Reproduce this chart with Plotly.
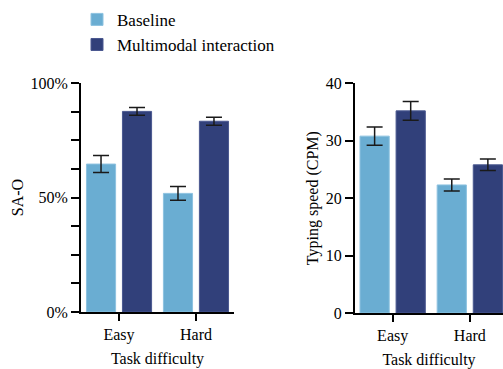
import plotly.graph_objects as go

categories = ["Easy", "Hard"]
series_names = ["Baseline", "Multimodal interaction"]

sao_baseline = [0.646, 0.518]
sao_baseline_err = [0.037, 0.030]
sao_multi = [0.876, 0.833]
sao_multi_err = [0.017, 0.017]

cpm_baseline = [30.8, 22.3]
cpm_baseline_err = [1.6, 1.05]
cpm_multi = [35.2, 25.8]
cpm_multi_err = [1.65, 1.0]

colors = ["#6AADD2", "#31407A"]
edge = ["#8DC2E0", "#4A5890"]
FONT = "Liberation Serif"

fig = go.Figure()

def add(vals, errs, i, xa, ya, show):
    fig.add_trace(go.Bar(
        x=categories, y=vals, name=series_names[i],
        marker=dict(color=colors[i], line=dict(color=edge[i], width=1)),
        error_y=dict(type="data", array=errs, visible=True, color="#1a1a1a",
                     thickness=1.5, width=8),
        xaxis=xa, yaxis=ya, showlegend=show, offsetgroup=str(i),
    ))

add(sao_baseline, sao_baseline_err, 0, "x", "y", True)
add(sao_multi, sao_multi_err, 1, "x", "y", True)
add(cpm_baseline, cpm_baseline_err, 0, "x2", "y2", False)
add(cpm_multi, cpm_multi_err, 1, "x2", "y2", False)

axis_common = dict(showline=True, linecolor="black", linewidth=2,
                   ticks="outside", tickcolor="black", tickwidth=2,
                   showgrid=False, zeroline=False, automargin=False,
                   tickfont=dict(family=FONT, size=16, color="black"))
title_font = dict(family=FONT, size=16, color="black")

fig.update_layout(
    width=503, height=369,
    margin=dict(l=0, r=0, t=0, b=0, autoexpand=False),
    paper_bgcolor="white", plot_bgcolor="white",
    font=dict(family=FONT, size=16, color="black"),
    barmode="group", bargap=0.065, bargroupgap=0.19,
    showlegend=True,
    legend=dict(x=77/503, y=0.995, xanchor="left", yanchor="top",
                font=dict(family=FONT, size=17, color="black"),
                bgcolor="rgba(0,0,0,0)", tracegroupgap=0),
    xaxis=dict(domain=[81/503, 234/503], range=[-0.494, 1.494],
               ticklen=7, anchor="y",
               title=dict(text="Task difficulty", font=title_font, standoff=10),
               **axis_common),
    yaxis=dict(domain=[(369-312)/369, (369-83)/369], range=[0, 1],
               tickvals=[0, 0.5, 1], ticktext=["0%", "50%", "100%"],
               ticklen=8, anchor="x",
               minor=dict(dtick=0.125, ticks="outside", ticklen=8, tickwidth=2, tickcolor="black"),
               title=dict(text="SA-O", font=title_font, standoff=3),
               **axis_common),
    xaxis2=dict(domain=[355/503, 1.0], range=[-0.488, 1.43],
                ticklen=7, anchor="y2",
                title=dict(text="Task difficulty", font=title_font, standoff=10),
                **axis_common),
    yaxis2=dict(domain=[(369-313)/369, (369-83.3)/369], range=[0, 40],
                tickvals=[0, 10, 20, 30, 40],
                ticklen=8, anchor="x2",
                title=dict(text="Typing speed (CPM)", font=title_font, standoff=3),
                **axis_common),
)

fig.write_html("out.html", config={"displayModeBar": False},
               post_script="document.body.style.margin='0';document.body.style.overflow='hidden';")
